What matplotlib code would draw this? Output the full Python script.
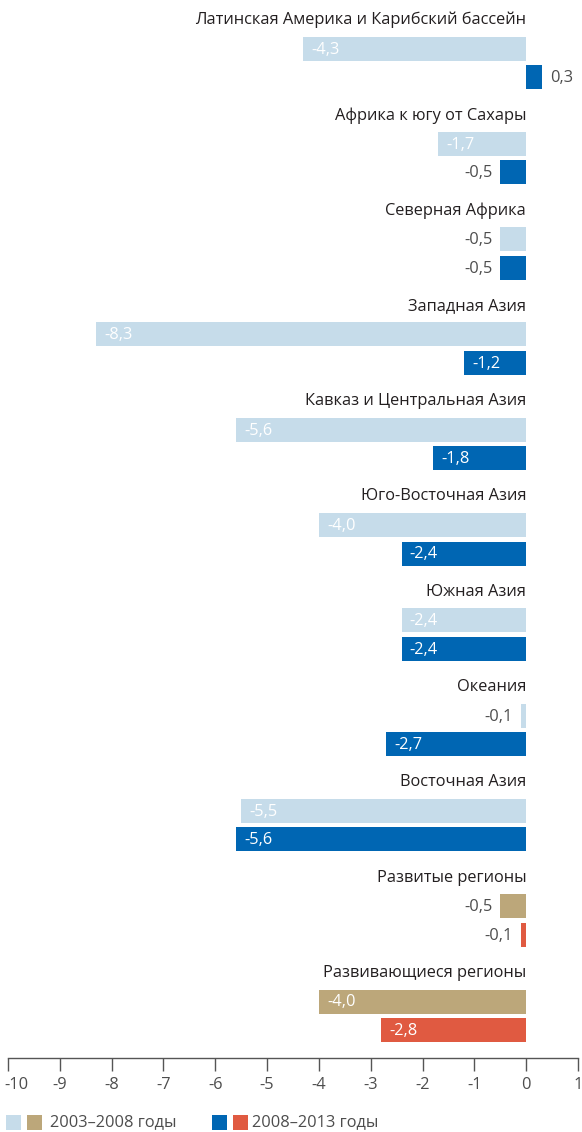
import matplotlib
matplotlib.use("Agg")
import matplotlib.pyplot as plt
from matplotlib.patches import Rectangle

plt.rcParams['font.family'] = ['Open Sans', 'DejaVu Sans']

regions = ["Латинская Америка и Карибский бассейн", "Африка к югу от Сахары",
           "Северная Африка", "Западная Азия", "Кавказ и Центральная Азия",
           "Юго-Восточная Азия", "Южная Азия", "Океания", "Восточная Азия",
           "Развитые регионы", "Развивающиеся регионы"]
v_2003_2008 = [-4.3, -1.7, -0.5, -8.3, -5.6, -4.0, -2.4, -0.1, -5.5, -0.5, -4.0]
v_2008_2013 = [0.3, -0.5, -0.5, -1.2, -1.8, -2.4, -2.4, -2.7, -5.6, -0.1, -2.8]
is_aggregate = [False] * 9 + [True, True]
xticks = list(range(-10, 2))
legend_labels = ["2003–2008 годы", "2008–2013 годы"]

LIGHT_BLUE = "#c6dcea"
DARK_BLUE = "#0066b3"
TAN = "#bca77a"
RED = "#e05a41"
TXT = "#231f20"
GRAY = "#4d4d4d"

W, H = 582, 1132
fig = plt.figure(figsize=(W / 100, H / 100), dpi=100)
axis_y = 1058
ax = fig.add_axes([8 / W, 1 - axis_y / H, 570 / W, axis_y / H])
ax.set_xlim(-10, 1)
ax.set_ylim(axis_y, 0)

step = 95.3
title0 = 20
bar_h = 24
px_per_unit = 570 / 11.0

fs = 11.8
for i, name in enumerate(regions):
    ty = title0 + i * step
    ax.text(0, ty, name, ha='right', va='center', fontsize=fs, color=TXT)
    c1 = TAN if is_aggregate[i] else LIGHT_BLUE
    c2 = RED if is_aggregate[i] else DARK_BLUE
    for val, yoff, col in ((v_2003_2008[i], 28.5, c1), (v_2008_2013[i], 57, c2)):
        y = ty + yoff
        ax.barh(y, val, height=bar_h, color=col, linewidth=0)
        lab = f"{val:.1f}".replace('.', ',')
        pad = 8 / px_per_unit
        if val > 0:
            ax.text(val + pad, y + 1, lab, ha='left', va='center', fontsize=fs, color=GRAY)
        elif abs(val) >= 1:
            ax.text(val + pad, y + 1, lab, ha='left', va='center', fontsize=fs, color='white')
        else:
            ax.text(val - pad, y + 1, lab, ha='right', va='center', fontsize=fs, color=GRAY)

for s in ['top', 'right', 'left']:
    ax.spines[s].set_visible(False)
ax.spines['bottom'].set_color('#555555')
ax.spines['bottom'].set_linewidth(1.0)
ax.set_yticks([])
ax.set_xticks(xticks)
ax.set_xticklabels([str(t) for t in xticks])
ax.tick_params(axis='x', direction='out', length=9, width=1.0, color='#555555',
               labelsize=fs, labelcolor=GRAY, pad=5)
first = ax.get_xticklabels()[0]
first.set_horizontalalignment('left')
from matplotlib.transforms import ScaledTranslation
first.set_transform(first.get_transform() + ScaledTranslation(-4 / 100, 0, fig.dpi_scale_trans))

# legend
ly = 1 - 1122 / H
sq = 15
def sqr(x, col):
    fig.patches.append(Rectangle((x / W, ly - sq / 2 / H), sq / W, sq / H,
                                 transform=fig.transFigure, color=col, linewidth=0))
sqr(6, LIGHT_BLUE)
sqr(27, TAN)
sqr(212, DARK_BLUE)
sqr(233, RED)
fig.text(50 / W, ly, legend_labels[0], ha='left', va='center', fontsize=fs, color=GRAY)
fig.text(252 / W, ly, legend_labels[1], ha='left', va='center', fontsize=fs, color=GRAY)

fig.savefig("out.png", dpi=100, facecolor='white')
